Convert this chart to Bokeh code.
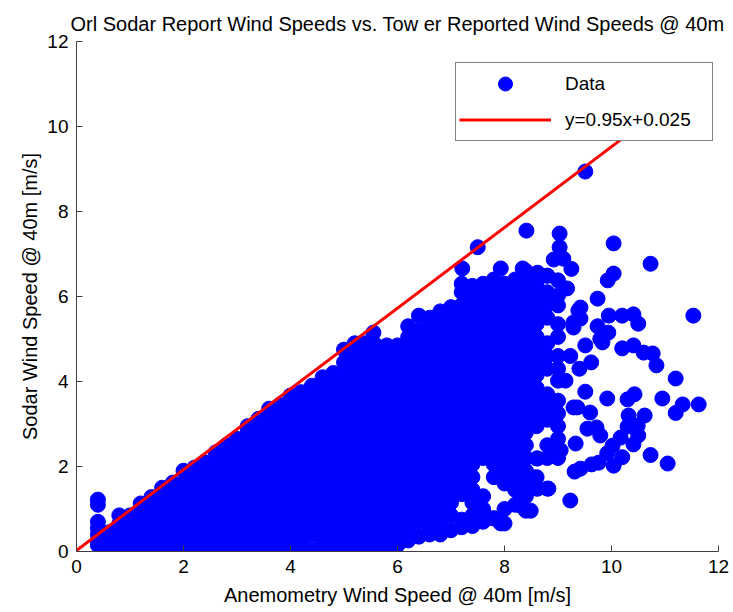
from bokeh.plotting import figure
from bokeh.models import Range1d, Legend, LegendItem, FixedTicker
from bokeh.embed import file_html
from bokeh.resources import INLINE

TITLE = "Orl Sodar Report Wind Speeds vs. Tow er Reported Wind Speeds @ 40m"
XLABEL = "Anemometry Wind Speed @ 40m [m/s]"
YLABEL = "Sodar Wind Speed @ 40m [m/s]"
x_ticks = [0, 2, 4, 6, 8, 10, 12]
y_ticks = [0, 2, 4, 6, 8, 10, 12]

# dense part of the cloud, read column by column (x, sodar speeds)
dense_columns = [
    (0.4, [0.15, 0.25, 0.4, 0.55, 0.7, 1.1, 1.22]),
    (0.6, [0.1, 0.25, 0.45]),
    (0.8, [0.15, 0.4, 0.65, 0.85]),
    (1.0, [0.1, 0.25, 0.55, 0.85]),
    (1.2, [0.1, 0.4, 0.7, 1.0, 1.13]),
    (1.4, [0.1, 0.25, 0.55, 0.85, 1.15, 1.28]),
    (1.6, [0.1, 0.4, 0.7, 1.0, 1.3, 1.5]),
    (1.8, [0.1, 0.25, 0.55, 0.85, 1.15, 1.45, 1.62]),
    (2.0, [0.1, 0.4, 0.7, 1.0, 1.3, 1.6, 1.9]),
    (2.2, [0.1, 0.25, 0.55, 0.85, 1.15, 1.45, 1.75, 1.97]),
    (2.4, [0.1, 0.4, 0.7, 1.0, 1.3, 1.6, 1.9, 2.1]),
    (2.6, [0.1, 0.25, 0.55, 0.85, 1.15, 1.45, 1.75, 2.05, 2.33]),
    (2.75, [0.0]),
    (2.8, [0.1, 0.4, 0.7, 1.0, 1.3, 1.6, 1.9, 2.2, 2.5]),
    (3.0, [0.1, 0.25, 0.55, 0.85, 1.15, 1.45, 1.75, 2.05, 2.35, 2.65]),
    (3.2, [0.1, 0.4, 0.7, 1.0, 1.3, 1.6, 1.9, 2.2, 2.5, 2.8, 2.95]),
    (3.4, [0.0, 0.1, 0.25, 0.55, 0.85, 1.15, 1.45, 1.75, 2.05, 2.35, 2.65, 2.95, 3.12]),
    (3.6, [0.1, 0.4, 0.7, 1.0, 1.3, 1.6, 1.9, 2.2, 2.5, 2.8, 3.1, 3.36]),
    (3.8, [0.1, 0.25, 0.55, 0.85, 1.15, 1.45, 1.75, 2.05, 2.35, 2.65, 2.95, 3.25, 3.45]),
    (4.0, [0.1, 0.4, 0.7, 1.0, 1.3, 1.6, 1.9, 2.2, 2.5, 2.8, 3.1, 3.4, 3.67]),
    (4.2, [0.05, 0.25, 0.55, 0.85, 1.15, 1.45, 1.75, 2.05, 2.35, 2.65, 2.95, 3.25, 3.55, 3.75]),
    (4.4, [0.05, 0.4, 0.7, 1.0, 1.3, 1.6, 1.9, 2.2, 2.5, 2.8, 3.1, 3.4, 3.7, 3.9]),
    (4.6, [0.05, 0.25, 0.55, 0.85, 1.15, 1.45, 1.75, 2.05, 2.35, 2.65, 2.95, 3.25, 3.55, 3.85, 4.1]),
    (4.8, [0.1, 0.4, 0.7, 1.0, 1.3, 1.6, 1.9, 2.2, 2.5, 2.8, 3.1, 3.4, 3.7, 4.0, 4.2]),
    (5.0, [0.1, 0.25, 0.55, 0.85, 1.15, 1.45, 1.75, 2.05, 2.35, 2.65, 2.95, 3.25, 3.55, 3.85, 4.15, 4.45, 4.75]),
    (5.2, [0.1, 0.4, 0.7, 1.0, 1.3, 1.6, 1.9, 2.2, 2.5, 2.8, 3.1, 3.4, 3.7, 4.0, 4.3, 4.6, 4.9]),
    (5.4, [0.15, 0.25, 0.55, 0.85, 1.15, 1.45, 1.75, 2.05, 2.35, 2.65, 2.95, 3.25, 3.55, 3.85, 4.15, 4.45, 4.75, 4.9]),
    (5.55, [5.15]),
    (5.6, [0.15, 0.4, 0.7, 1.0, 1.3, 1.6, 1.9, 2.2, 2.5, 2.8, 3.1, 3.4, 3.7, 4.0, 4.3, 4.6, 4.85]),
    (5.8, [0.15, 0.25, 0.55, 0.85, 1.15, 1.45, 1.75, 2.05, 2.35, 2.65, 2.95, 3.25, 3.55, 3.85, 4.15, 4.45, 4.75, 4.85]),
    (6.0, [0.15, 0.4, 0.7, 1.0, 1.3, 1.6, 1.9, 2.2, 2.5, 2.8, 3.1, 3.4, 3.7, 4.0, 4.3, 4.6, 4.85]),
    (6.2, [0.26, 0.55, 0.85, 1.15, 1.45, 1.75, 2.05, 2.35, 2.65, 2.95, 3.25, 3.55, 3.85, 4.15, 4.45, 4.75, 5.05, 5.3]),
    (6.4, [0.35, 0.7, 1.0, 1.3, 1.6, 1.9, 2.2, 2.5, 2.8, 3.1, 3.4, 3.7, 4.0, 4.3, 4.6, 4.9, 5.2, 5.55]),
    (6.6, [0.4, 0.55, 0.85, 1.15, 1.45, 1.75, 2.05, 2.35, 2.65, 2.95, 3.25, 3.55, 3.85, 4.15, 4.45, 4.75, 5.05, 5.35, 5.5]),
    (6.8, [0.4, 0.7, 1.0, 1.3, 1.6, 1.9, 2.2, 2.5, 2.8, 3.1, 3.4, 3.7, 4.0, 4.3, 4.6, 4.9, 5.2, 5.5, 5.65]),
    (7.0, [0.5, 0.85, 1.15, 1.45, 1.75, 2.05, 2.35, 2.65, 2.95, 3.25, 3.55, 3.85, 4.15, 4.45, 4.75, 5.05, 5.35, 5.65, 5.75]),
    (7.2, [0.57, 0.75, 1.35, 1.6, 1.9, 2.2, 2.5, 2.8, 3.1, 3.4, 3.7, 4.0, 4.3, 4.6, 4.9, 5.2, 5.5, 5.8, 6.1, 6.3]),
    (7.4, [0.6, 0.85, 1.15, 1.45, 1.75, 2.05, 2.35, 2.65, 2.95, 3.25, 3.55, 3.85, 4.15, 4.45, 4.75, 5.05, 5.35, 5.65, 5.95, 6.25]),
    (7.6, [0.7, 1.0, 1.3, 2.2, 2.5, 2.8, 3.1, 3.4, 3.7, 4.0, 4.3, 4.6, 4.9, 5.2, 5.5, 5.8, 6.1, 6.3]),
    (7.8, [0.78, 1.75, 2.05, 2.35, 2.65, 2.95, 3.25, 3.55, 3.85, 4.15, 4.45, 4.75, 5.05, 5.35, 5.65, 5.95, 6.25, 6.4]),
    (8.0, [0.66, 1.0, 1.6, 1.9, 2.2, 2.5, 2.8, 3.1, 3.4, 3.7, 4.0, 4.3, 4.6, 4.9, 5.2, 5.5, 5.8, 6.1, 6.3]),
    (8.2, [1.1, 1.45, 1.75, 2.05, 2.35, 2.65, 2.95, 3.25, 3.55, 3.85, 4.15, 4.45, 4.75, 5.05, 5.35, 5.65, 5.95, 6.25, 6.4]),
    (8.4, [0.96, 1.3, 1.6, 1.9, 2.2, 2.5, 2.8, 3.1, 3.4, 3.7, 4.0, 4.3, 4.6, 4.9, 5.2, 5.5, 5.8, 6.1, 6.4, 6.6]),
    (8.6, [1.48, 1.75, 2.19, 2.95, 3.25, 3.55, 3.85, 4.15, 4.45, 4.75, 5.05, 5.35, 5.65, 5.95, 6.25, 6.54]),
    (8.8, [1.48, 2.2, 2.5, 3.1, 3.4, 3.7, 4.3, 4.6, 4.9, 5.5, 5.8, 6.1, 6.49]),
    (9.0, [2.2, 2.38, 2.65, 2.95, 3.25, 3.55, 4.02, 4.3, 4.6, 5.05, 5.35, 5.79, 6.02, 6.38]),
]

# sparse / outlying points
sparse_x = [9.51, 7.5, 7.21, 7.93, 8.34, 8.41, 9.03, 9.03, 8.92, 9.1, 9.25, 8.62, 8.8, 9.17,
            8.62, 9.38, 9.42, 9.42, 9.29, 9.29, 10.04, 10.73, 10.04, 9.93, 9.74, 11.53, 9.95,
            10.2, 10.41, 10.5, 9.74, 9.94, 9.83, 9.51, 9.79, 10.2, 10.41, 10.6, 10.77, 10.84,
            11.2, 9.62, 9.4, 9.23, 9.14, 9.51, 9.92, 10.3, 10.43, 10.95, 11.33, 11.2, 11.63,
            10.32, 10.62, 10.3, 10.49, 10.5, 10.41, 10.17, 10.02, 10.2, 10.04, 10.73, 11.05,
            9.6, 9.72, 9.55, 9.79, 9.92, 9.76, 9.63, 9.42, 9.31, 9.23, 9.36, 9.29, 9.33, 9.05,
            8.82, 8.62, 8.49, 8.3, 7.93, 7.8, 7.61, 8.62, 8.54, 8.3]
sparse_y = [8.94, 7.16, 6.66, 6.66, 6.66, 7.55, 7.48, 7.16, 6.87, 6.89, 6.65, 6.56, 6.49, 6.19,
            6.07, 5.67, 5.74, 5.48, 5.39, 5.27, 7.25, 6.77, 6.54, 6.38, 5.95, 5.55, 5.55,
            5.55, 5.58, 5.36, 5.3, 5.15, 4.92, 4.85, 5.0, 4.78, 4.85, 4.68, 4.66, 4.38,
            4.07, 4.45, 4.3, 4.6, 4.02, 3.76, 3.6, 3.58, 3.7, 3.6, 3.46, 3.26, 3.46,
            3.2, 3.2, 2.94, 2.96, 2.73, 2.52, 2.68, 2.49, 2.22, 2.02, 2.27, 2.07,
            3.27, 2.92, 2.89, 2.73, 2.31, 2.09, 2.05, 1.95, 1.88, 1.2, 3.39, 3.39, 2.54, 2.38,
            1.48, 1.48, 0.96, 1.08, 0.66, 0.78, 0.92, 2.19, 1.74, 1.67]

# fitted line y = 0.95x + 0.025 (end points; the rest is hidden behind the legend)
fit_x = [0.0, 11.5]
fit_y = [0.025, 10.95]
fit_label = "y=0.95x+0.025"

data_x = [cx for cx, ys in dense_columns for _ in ys] + sparse_x
data_y = [y for _, ys in dense_columns for y in ys] + sparse_y

FONT = "Liberation Sans"

p = figure(width=733, height=612, output_backend="svg", toolbar_location=None,
           x_range=Range1d(0, 12), y_range=Range1d(0, 12),
           min_border_left=76, min_border_right=15, min_border_top=41, min_border_bottom=61)
p.outline_line_color = None
p.xgrid.visible = False
p.ygrid.visible = False

p.title.text = TITLE
p.title.align = "center"
p.title.text_font = FONT
p.title.text_font_size = "20px"
p.title.text_font_style = "normal"
p.title.text_color = "black"
p.title.standoff = 14

sc = p.scatter(data_x, data_y, marker="circle", size=15, fill_color="#0000ff", line_color="#0000ff")
ln = p.line(fit_x, fit_y, line_color="#ff0000", line_width=3)

for ax, ticks, lab in ((p.xaxis[0], x_ticks, XLABEL), (p.yaxis[0], y_ticks, YLABEL)):
    ax.ticker = FixedTicker(ticks=ticks)
    ax.axis_label = lab
    ax.axis_label_text_font = FONT
    ax.axis_label_text_font_size = "20px"
    ax.axis_label_text_font_style = "normal"
    ax.axis_label_text_color = "black"
    ax.major_label_text_font = FONT
    ax.major_label_text_font_size = "19px"
    ax.major_label_text_color = "black"
    ax.axis_line_color = "#404040"
    ax.major_tick_line_color = "#404040"
    ax.major_tick_in = 6
    ax.major_tick_out = 0
    ax.minor_tick_line_color = None
    ax.major_label_standoff = 8
    ax.axis_label_standoff = 8

p.yaxis[0].axis_label_standoff = 3

legend = Legend(items=[LegendItem(label="Data", renderers=[sc]),
                       LegendItem(label=fit_label, renderers=[ln])],
                location=(379, 410), padding=3, spacing=1, margin=0,
                glyph_width=92, glyph_height=35, label_standoff=14, label_width=144,
                label_text_font=FONT, label_text_font_size="19px", label_text_color="black",
                border_line_color="black", border_line_width=1,
                background_fill_color="white", background_fill_alpha=1.0)
p.add_layout(legend, "center")

open("out.html", "w").write(file_html(p, INLINE))
